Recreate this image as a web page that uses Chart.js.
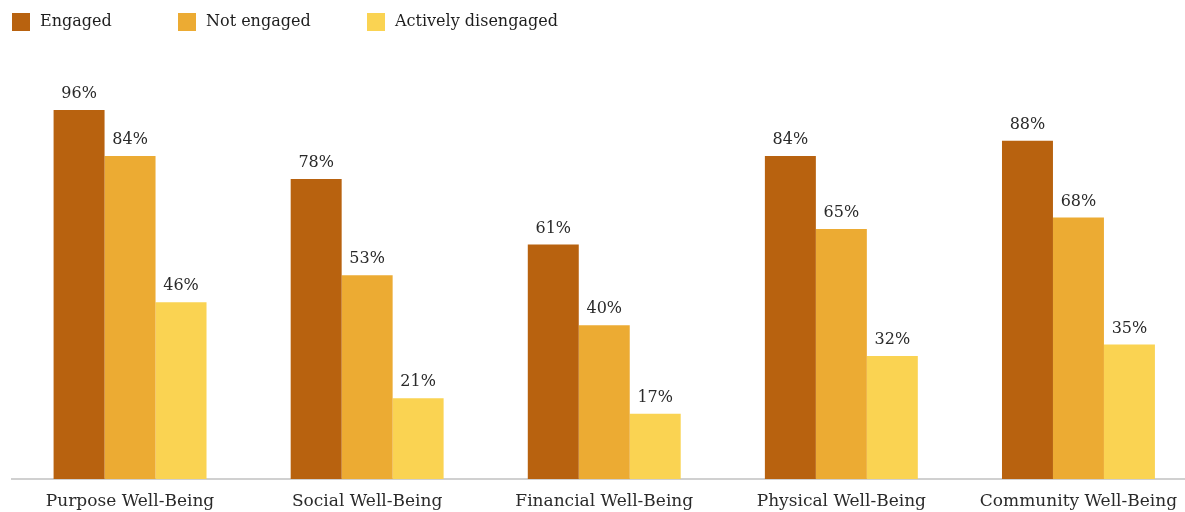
<!DOCTYPE html>
<html>
<head>
<meta charset="utf-8">
<script src="https://cdn.jsdelivr.net/npm/chart.js@4"></script>
<style>
  html, body { margin: 0; padding: 0; background: #fff; overflow: hidden; }
  #wrap { width: 1200px; height: 530px; }
</style>
</head>
<body>
<div id="wrap"><canvas id="chart"></canvas></div>
<script>
const categories = ['Purpose Well-Being', 'Social Well-Being', 'Financial Well-Being', 'Physical Well-Being', 'Community Well-Being'];
const engaged = [96, 78, 61, 84, 88];
const notEngaged = [84, 53, 40, 65, 68];
const activelyDisengaged = [46, 21, 17, 32, 35];
const seriesNames = ['Engaged', 'Not engaged', 'Actively disengaged'];
const seriesColors = ['#B8620F', '#ECAB33', '#FAD352'];

const serif = 'Georgia, "DejaVu Serif", serif';

// legend drawn by hand so the item spacing matches
const legendX = [12, 178, 367];
const legendPlugin = {
    id: 'topLegend',
    afterDraw(chart) {
        const ctx = chart.ctx;
        ctx.save();
        ctx.font = '16px ' + serif;
        ctx.textBaseline = 'middle';
        chart.data.datasets.forEach((ds, i) => {
            ctx.fillStyle = ds.backgroundColor;
            ctx.fillRect(legendX[i], 13, 18, 18);
            ctx.fillStyle = '#1e1e1e';
            ctx.fillText(ds.label, legendX[i] + 28, 22);
        });
        ctx.restore();
    }
};

const valueLabels = {
    id: 'valueLabels',
    afterDatasetsDraw(chart) {
        const ctx = chart.ctx;
        ctx.save();
        ctx.font = '16px ' + serif;
        ctx.fillStyle = '#2a2a2a';
        ctx.textAlign = 'center';
        ctx.textBaseline = 'bottom';
        chart.data.datasets.forEach((ds, i) => {
            chart.getDatasetMeta(i).data.forEach((bar, j) => {
                ctx.fillText(ds.data[j] + '%', bar.x, bar.y - 8);
            });
        });
        ctx.restore();
    }
};

new Chart(document.getElementById('chart'), {
    type: 'bar',
    data: {
        labels: categories,
        datasets: [
            { label: seriesNames[0], data: engaged, backgroundColor: seriesColors[0] },
            { label: seriesNames[1], data: notEngaged, backgroundColor: seriesColors[1] },
            { label: seriesNames[2], data: activelyDisengaged, backgroundColor: seriesColors[2] }
        ]
    },
    options: {
        responsive: true,
        maintainAspectRatio: false,
        animation: false,
        layout: { padding: { top: 94.5, left: 11.5, right: 3, bottom: 6.6 } },
        datasets: { bar: { categoryPercentage: 0.645, barPercentage: 1.0 } },
        plugins: { legend: { display: false }, tooltip: { enabled: false } },
        scales: {
            x: {
                grid: { display: false, drawTicks: false },
                border: { display: true, color: '#d0d0d0', width: 2 },
                ticks: { color: '#2a2a2a', padding: 12, font: { family: serif, size: 17 }, maxRotation: 0, autoSkip: false }
            },
            y: { display: false, min: 0, max: 100 }
        }
    },
    plugins: [legendPlugin, valueLabels]
});
</script>
</body>
</html>
